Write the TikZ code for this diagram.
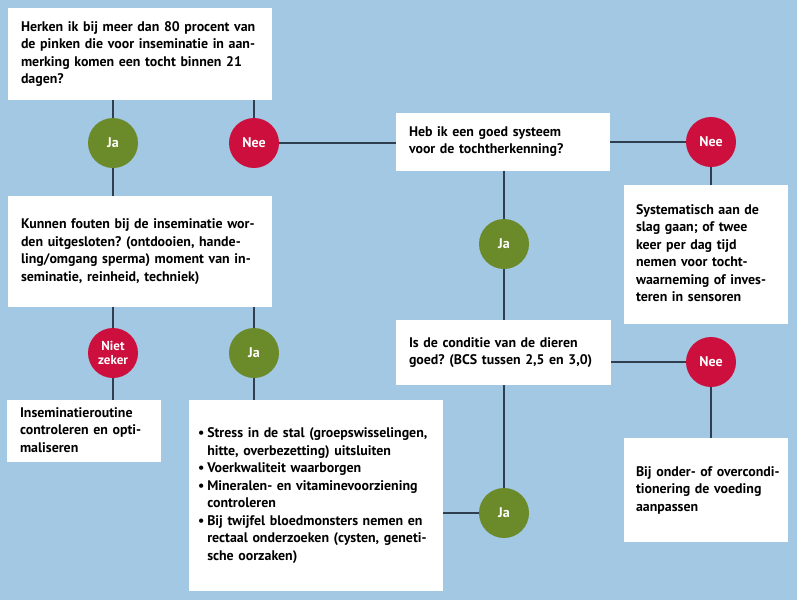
\documentclass[tikz,border=0pt]{standalone}
\usepackage{fontspec}
\setmainfont{PT Sans}[BoldFont={PT Sans Bold}]
\usepackage{xcolor}
\usepackage{tikz}
\frenchspacing

\definecolor{bgblue}{HTML}{A3C8E3}
\definecolor{jagreen}{HTML}{6B8A2A}
\definecolor{neered}{HTML}{CC0F3C}
\definecolor{linegray}{HTML}{2E4050}

\newcommand{\regels}[1]{\begin{tabular}{@{}l@{}}#1\end{tabular}}

\begin{document}
\begin{tikzpicture}[
    x=1pt, y=-1pt,
    box/.style={rectangle, fill=white, inner xsep=13pt, inner ysep=0pt, align=left, font=\fontsize{13.9}{17.5}\selectfont\bfseries},
    ja/.style={circle, fill=jagreen, text=white, minimum size=50pt, inner sep=0pt, align=center, font=\fontsize{14}{14}\selectfont\bfseries},
    nee/.style={ja, fill=neered},
    conn/.style={draw=linegray, line width=1.6pt},
]

\fill[bgblue] (0,0) rectangle (797,600);
\useasboundingbox (0,0) rectangle (797,600);

% vragen
\node[box, minimum width=264pt, minimum height=92pt, text width=238pt] (q1) at (140,54) {\regels{Herken ik bij meer dan 80 procent van\\de pinken die voor inseminatie in aan-\\merking komen een tocht binnen 21\\dagen?}};
\node[box, minimum width=264pt, minimum height=111pt, text width=238pt] (q4) at (140,251.5) {\regels{Kunnen fouten bij de inseminatie wor-\\den uitgesloten? (ontdooien, hande-\\ling/omgang sperma) moment van in-\\seminatie, reinheid, techniek)}};
\node[box, minimum width=214pt, minimum height=58pt, text width=188pt] (q2) at (503,141.5) {\regels{Heb ik een goed systeem\\voor de tochtherkenning?}};
\node[box, minimum width=215pt, minimum height=65pt, text width=189pt] (q3) at (503.5,352.5) {\regels{Is de conditie van de dieren\\goed? (BCS tussen 2,5 en 3,0)}};

% adviezen
\node[box, minimum width=152pt, minimum height=62pt, text width=128pt] (a1) at (84,431) {\regels{Inseminatieroutine\\controleren en opti-\\maliseren}};
\node[box, minimum width=164pt, minimum height=139pt, text width=140pt, inner xsep=12pt] (a2) at (706,254.5) {\regels{Systematisch aan de\\slag gaan; of twee\\keer per dag tijd\\nemen voor tocht-\\waarneming of inves-\\teren in sensoren}};
\node[box, minimum width=164pt, minimum height=104pt, text width=140pt, inner xsep=12pt] (a3) at (706,490) {\regels{Bij onder- of overcondi-\\tionering de voeding\\aanpassen}};
\node[box, minimum width=254pt, minimum height=191pt, text width=236pt, inner xsep=9pt] (a4) at (316,495.5) {\begin{tabular}{@{}l@{\hspace{3pt}}l@{}}
\textbullet & Stress in de stal (groepswisselingen,\\
 & hitte, overbezetting) uitsluiten\\
\textbullet & Voerkwaliteit waarborgen\\
\textbullet & Mineralen- en vitaminevoorziening\\
 & controleren\\
\textbullet & Bij twijfel bloedmonsters nemen en\\
 & rectaal onderzoeken (cysten, geneti-\\
 & sche oorzaken)
\end{tabular}};

% antwoorden
\node[ja] (ja1) at (113,143) {Ja};
\node[nee] (nee1) at (254,143) {Nee};
\node[nee] (nee2) at (711,142) {Nee};
\node[ja] (ja2) at (504,244) {Ja};
\node[nee, font=\fontsize{13}{14}\selectfont\bfseries] (nz) at (113,353) {Niet\\zeker};
\node[ja] (ja4) at (254,353) {Ja};
\node[nee] (nee3) at (711,362) {Nee};
\node[ja] (ja3) at (504,513) {Ja};

\draw[conn] (q1.south -| ja1) -- (ja1.north);
\draw[conn] (ja1.south) -- (ja1 |- q4.north);
\draw[conn] (q1.south -| nee1) -- (nee1.north);
\draw[conn] (nee1.east) -- (q2.west |- nee1);
\draw[conn] (q2.east |- nee2) -- (nee2.west);
\draw[conn] (nee2.south) -- (nee2 |- a2.north);
\draw[conn] (q2.south -| ja2) -- (ja2.north);
\draw[conn] (ja2.south) -- (ja2 |- q3.north);
\draw[conn] (q3.east |- nee3) -- (nee3.west);
\draw[conn] (nee3.south) -- (nee3 |- a3.north);
\draw[conn] (q3.south -| ja3) -- (ja3.north);
\draw[conn] (ja3.west) -- (a4.east |- ja3);
\draw[conn] (q4.south -| nz) -- (nz.north);
\draw[conn] (nz.south) -- (nz |- a1.north);
\draw[conn] (q4.south -| ja4) -- (ja4.north);
\draw[conn] (ja4.south) -- (ja4 |- a4.north);

\end{tikzpicture}
\end{document}
